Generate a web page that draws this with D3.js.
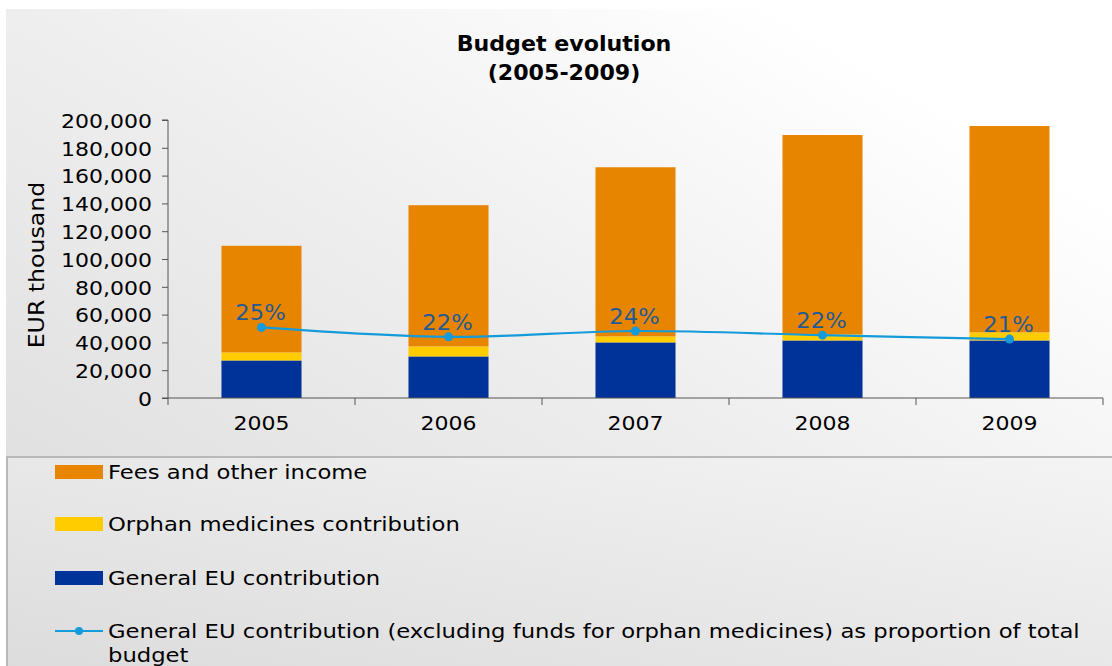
<!DOCTYPE html>
<html><head><meta charset="utf-8">
<script src="https://cdn.jsdelivr.net/npm/d3@7"></script>
<style>html,body{margin:0;padding:0;background:#fff;}svg{display:block;font-family:"DejaVu Sans",Verdana,sans-serif;}</style>
</head><body>
<svg id="c" width="1112" height="666"></svg>
<script>
const years = ["2005","2006","2007","2008","2009"];
const generalEU = [27000, 29900, 40000, 41400, 41400];
const orphanMed = [5800, 7200, 4300, 4400, 5800];
const feesOther = [76700, 101600, 121700, 143400, 148500];
const euShare = [0.254, 0.220, 0.241, 0.226, 0.212];
const shareLabels = ["25%","22%","24%","22%","21%"];
const yTicks = [0,20000,40000,60000,80000,100000,120000,140000,160000,180000,200000];
const seriesNames = ["Fees and other income","Orphan medicines contribution","General EU contribution"];
const lineName = "General EU contribution (excluding funds for orphan medicines) as proportion of total budget";
const titleLines = ["Budget evolution","(2005-2009)"];
const yTitle = "EUR thousand";

const colors = {fees:"#E88500", orphan:"#FFCC00", eu:"#003399", line:"#159BDA", label:"#1F5A96"};

const svg = d3.select("#c");
const defs = svg.append("defs");
const g1 = defs.append("linearGradient").attr("id","bg").attr("x1","0").attr("y1","1").attr("x2","1").attr("y2","0");
g1.append("stop").attr("offset","0").attr("stop-color","#dadada");
g1.append("stop").attr("offset","0.5").attr("stop-color","#eeeeee");
g1.append("stop").attr("offset","0.85").attr("stop-color","#ffffff");
const g2 = defs.append("linearGradient").attr("id","lg").attr("x1","0").attr("y1","1").attr("x2","1").attr("y2","0");
g2.append("stop").attr("offset","0").attr("stop-color","#dcdcdc");
g2.append("stop").attr("offset","1").attr("stop-color","#f4f4f4");

svg.append("rect").attr("x",6).attr("y",9).attr("width",1106).attr("height",657).attr("fill","url(#bg)");

const pLeft=168, pRight=1103, pTop=120, pBottom=398;
const x = d3.scaleBand().domain(years).range([pLeft,pRight]).paddingInner(0.572).paddingOuter(0.286);
const y = d3.scaleLinear().domain([0,200000]).range([pBottom,pTop]);
const yP = d3.scaleLinear().domain([0,1]).range([pBottom,pTop]);

function sText(parent, tx, ty, str, size, sx, opts={}){
  const g = parent.append("g").attr("transform",`translate(${tx},${ty}) scale(${sx},1)`);
  const t = g.append("text").attr("font-size",size).attr("fill",opts.fill||"#000")
    .attr("text-anchor",opts.anchor||"start").text(str);
  if (opts.bold) t.attr("font-weight","bold");
  return t;
}

// title
titleLines.forEach((d,i)=>sText(svg,564,51+i*29,d,20.5,1.08,{anchor:"middle",bold:true}));

// stacked bars
const rows = years.map((yr,i)=>({year:yr, eu:generalEU[i], orphan:orphanMed[i], fees:feesOther[i]}));
const stack = d3.stack().keys(["eu","orphan","fees"])(rows);
const colorOf = {eu:colors.eu, orphan:colors.orphan, fees:colors.fees};
svg.append("g").selectAll("g").data(stack).join("g").attr("fill",d=>colorOf[d.key])
  .selectAll("rect").data(d=>d).join("rect")
  .attr("x",d=>x(d.data.year)).attr("width",x.bandwidth())
  .attr("y",d=>y(d[1])).attr("height",d=>y(d[0])-y(d[1]));

// y axis
const ySx = 1.1;
const yAxis = svg.append("g").attr("transform",`translate(${pLeft},0)`)
  .call(d3.axisLeft(y).tickValues(yTicks).tickSize(6).tickPadding(10).tickFormat(d3.format(",")));
yAxis.selectAll("text").attr("font-size",20).attr("fill","#000").attr("font-family","DejaVu Sans")
  .attr("dy","0.36em").attr("x",-16/ySx).attr("transform",`scale(${ySx},1)`);
yAxis.selectAll("line").attr("stroke","#555");
yAxis.select(".domain").attr("stroke","#555").attr("d",`M-6,${pTop}H0V${pBottom}H-6`);

// x axis
const xAxis = svg.append("g").attr("transform",`translate(0,${pBottom})`)
  .call(d3.axisBottom(x).tickSize(0).tickPadding(18));
xAxis.selectAll("text").attr("font-size",20).attr("fill","#000").attr("font-family","DejaVu Sans")
  .attr("transform","scale(1.1,1)");
xAxis.selectAll(".tick").attr("transform",d=>`translate(${x(d)+x.bandwidth()/2},0)`);
xAxis.select(".domain").attr("stroke","#555").attr("d",`M${pLeft},0H${pRight}`);
const bounds = d3.range(years.length+1).map(i=>pLeft+i*x.step());
xAxis.append("g").selectAll("line").data(bounds).join("line")
  .attr("x1",d=>d).attr("x2",d=>d).attr("y1",0).attr("y2",7).attr("stroke","#555");

// y title
svg.append("g").attr("transform","translate(44,265) rotate(-90) scale(1.1,1)")
  .append("text").attr("text-anchor","middle").attr("font-size",21.5).attr("fill","#000").text(yTitle);

// line
const pts = years.map((yr,i)=>[x(yr)+x.bandwidth()/2, yP(euShare[i])]);
svg.append("path").attr("d",d3.line().curve(d3.curveCatmullRom.alpha(0.5))(pts))
  .attr("fill","none").attr("stroke",colors.line).attr("stroke-width",2.2);
svg.append("g").selectAll("circle").data(pts).join("circle")
  .attr("cx",d=>d[0]).attr("cy",d=>d[1]).attr("r",4.5).attr("fill",colors.line);
pts.forEach((d,i)=>sText(svg,d[0]-1,d[1]-7,shareLabels[i],22,1.03,{anchor:"middle",fill:colors.label}));

// legend
svg.append("rect").attr("x",7).attr("y",457).attr("width",1110).attr("height",215)
  .attr("fill","url(#lg)").attr("stroke","#b8b8b8").attr("stroke-width",2);
const legItems = [
  {name:seriesNames[0], color:colors.fees, type:"rect"},
  {name:seriesNames[1], color:colors.orphan, type:"rect"},
  {name:seriesNames[2], color:colors.eu, type:"rect"},
  {name:lineName, color:colors.line, type:"line"}
];
const legY = [472, 524, 578, 631];
const lSx = 1.135;
const leg = svg.append("g").selectAll("g").data(legItems).join("g")
  .attr("transform",(d,i)=>`translate(0,${legY[i]})`);
leg.filter(d=>d.type==="rect").append("rect").attr("x",55).attr("y",-7).attr("width",48).attr("height",14).attr("fill",d=>d.color);
const ll = leg.filter(d=>d.type==="line");
ll.append("line").attr("x1",55).attr("x2",103).attr("y1",0).attr("y2",0).attr("stroke",d=>d.color).attr("stroke-width",2);
ll.append("circle").attr("cx",79).attr("cy",0).attr("r",4).attr("fill",d=>d.color);
leg.each(function(d){
  const t = d3.select(this).append("g").attr("transform",`translate(108,7) scale(${lSx},1)`)
    .append("text").attr("font-size",20).attr("fill","#000");
  const words = d.name.split(" ");
  let line = [], tspan = t.append("tspan").attr("x",0).attr("dy",0);
  for (const w of words){
    line.push(w); tspan.text(line.join(" "));
    if (tspan.node().getComputedTextLength()*lSx > 985 && line.length>1){
      line.pop(); tspan.text(line.join(" "));
      line=[w];
      tspan = t.append("tspan").attr("x",0).attr("dy",24).text(w);
    }
  }
});
</script>
</body></html>
